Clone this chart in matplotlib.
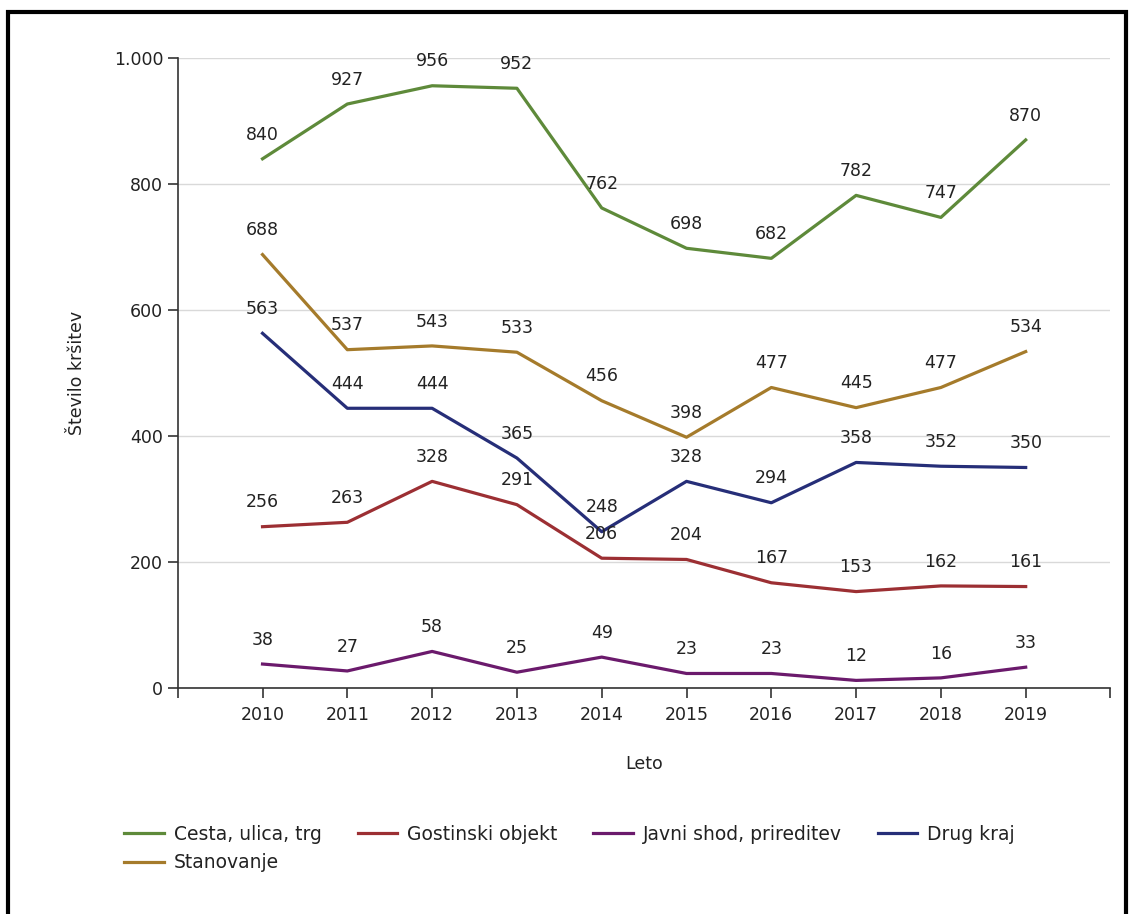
import matplotlib.pyplot as plt
from matplotlib.patches import Rectangle

# Data
years = [2010, 2011, 2012, 2013, 2014, 2015, 2016, 2017, 2018, 2019]
cesta = [840, 927, 956, 952, 762, 698, 682, 782, 747, 870]
gostinski = [256, 263, 328, 291, 206, 204, 167, 153, 162, 161]
javni = [38, 27, 58, 25, 49, 23, 23, 12, 16, 33]
drug = [563, 444, 444, 365, 248, 328, 294, 358, 352, 350]
stanovanje = [688, 537, 543, 533, 456, 398, 477, 445, 477, 534]

series = [
    ("Cesta, ulica, trg", cesta, '#5e8a3a'),
    ("Gostinski objekt", gostinski, '#9c2f33'),
    ("Javni shod, prireditev", javni, '#6b1a6c'),
    ("Drug kraj", drug, '#262e78'),
    ("Stanovanje", stanovanje, '#a57b2b'),
]

text_color = '#222222'
fs = 12.5

fig = plt.figure(figsize=(11.32, 9.14), dpi=100)
ax = fig.add_axes([0.157, 0.2473, 0.824, 0.6892])

lines = {}
for name, vals, color in series:
    ln, = ax.plot(years, vals, color=color, linewidth=2.3, solid_joinstyle='round', zorder=3)
    lines[name] = ln
    for x, v in zip(years, vals):
        ax.annotate(str(v), (x, v), xytext=(0, 11), textcoords='offset points',
                    ha='center', va='bottom', fontsize=fs, color=text_color, zorder=4)

ax.set_xlim(2009, 2020)
ax.set_ylim(0, 1000)
ax.set_xticks(range(2009, 2021))
ax.set_xticklabels([''] + [str(y) for y in years] + [''])
ax.set_yticks([0, 200, 400, 600, 800, 1000])
ax.set_yticklabels(['0', '200', '400', '600', '800', '1.000'])
ax.tick_params(axis='both', labelsize=fs, colors='#333333', labelcolor=text_color,
               length=7, width=1.2)
ax.tick_params(axis='x', pad=6)

ax.grid(axis='y', color='#d9d9d9', linewidth=1)
ax.set_axisbelow(True)
for s in ['top', 'right']:
    ax.spines[s].set_visible(False)
for s in ['left', 'bottom']:
    ax.spines[s].set_color('#333333')
    ax.spines[s].set_linewidth(1.2)

ax.set_ylabel('Število kršitev', fontsize=fs, color=text_color, labelpad=20)
ax.set_xlabel('Leto', fontsize=fs, color=text_color, labelpad=22)

# legend: row-major order in 4 columns
order = ["Cesta, ulica, trg", "Stanovanje", "Gostinski objekt", "Javni shod, prireditev", "Drug kraj"]
fig.legend([lines[n] for n in order], order, ncol=4, loc='upper left',
           bbox_to_anchor=(0.095, 0.116), frameon=False, fontsize=13.5,
           handlelength=2.1, columnspacing=1.9, labelspacing=0.5,
           handletextpad=0.55, labelcolor=text_color)

# outer frame
fig.patches.append(Rectangle((0.0075, -0.01), 0.987, 0.997, transform=fig.transFigure,
                             fill=False, edgecolor='black', linewidth=3))

fig.savefig('out.png', dpi=100)
